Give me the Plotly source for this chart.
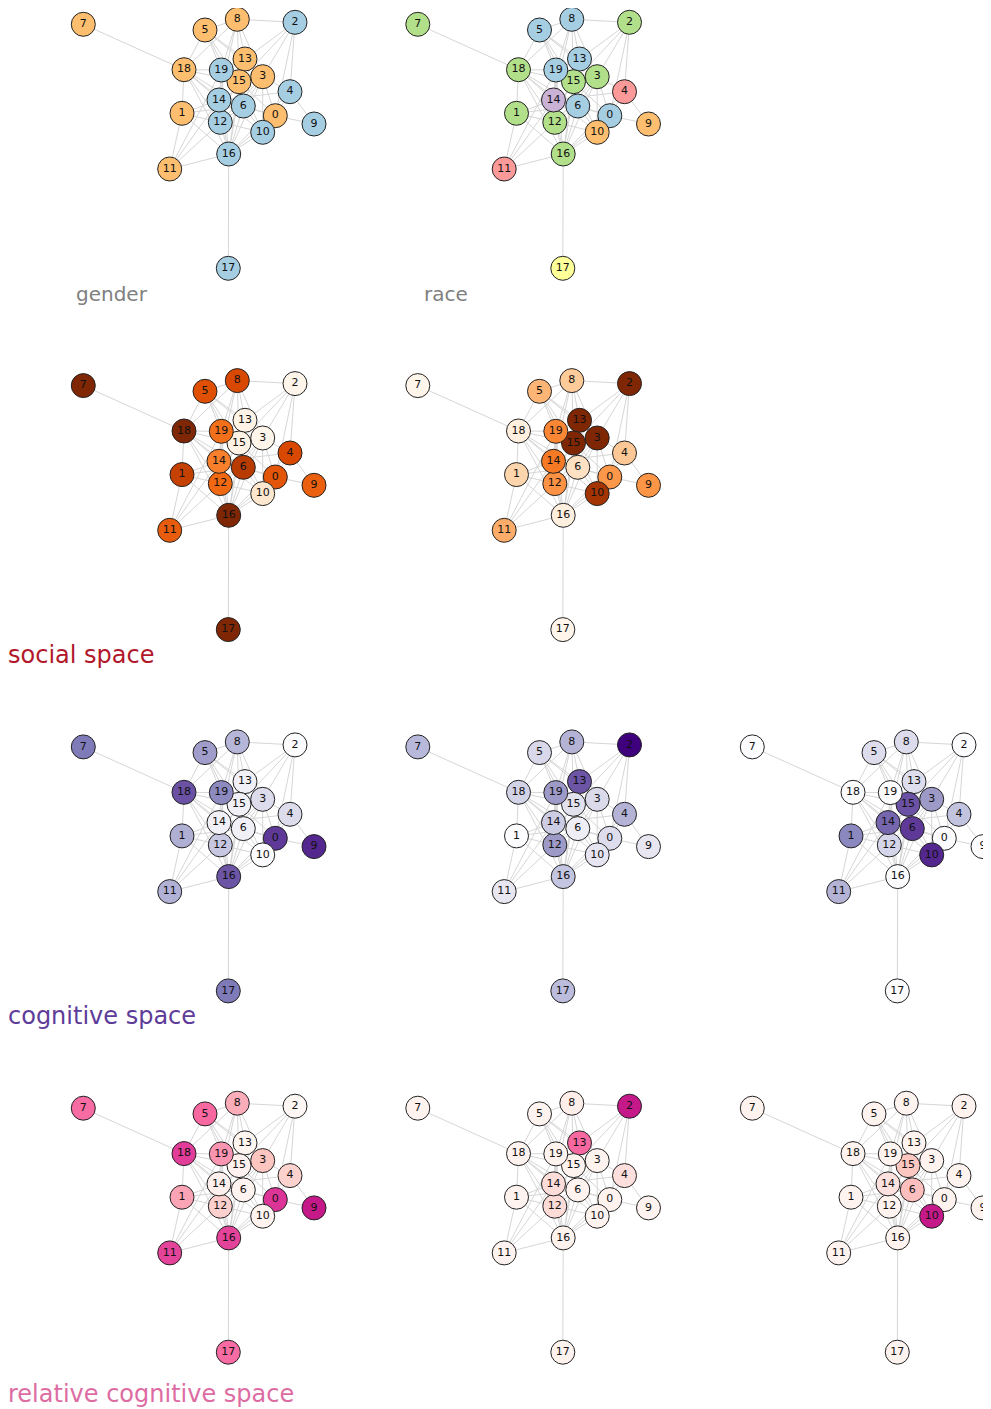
import plotly.graph_objects as go

# ---------------- data ----------------
node_ids = list(range(20))

# spring-layout positions of the 20 nodes (same layout in every panel)
node_x = [275.3, 182.0, 295.0, 262.7, 290.0, 205.0, 243.3, 83.3, 237.3, 314.0,
          262.7, 169.7, 220.3, 245.0, 219.0, 239.0, 228.7, 228.3, 184.0, 221.3]
node_y = [115.7, 113.3, 22.3, 76.7, 91.7, 30.0, 106.0, 24.3, 19.3, 124.0,
          132.3, 169.0, 122.3, 59.0, 100.0, 81.7, 154.0, 268.3, 69.7, 70.0]

edges = [
    (7, 18),
    (5, 8), (5, 18), (5, 19), (5, 15), (5, 13), (5, 3), (5, 6),
    (8, 2), (8, 18), (8, 19), (8, 13), (8, 15), (8, 14), (8, 3),
    (2, 13), (2, 3), (2, 4), (2, 15), (2, 0),
    (13, 19), (13, 15), (13, 3), (13, 12), (13, 16),
    (18, 19), (18, 1), (18, 14), (18, 12), (18, 16), (18, 6), (18, 10), (18, 15),
    (19, 15), (19, 14), (19, 12), (19, 16), (19, 3), (19, 11),
    (1, 11), (1, 14), (1, 6), (1, 16), (1, 12),
    (11, 16), (11, 12), (11, 14),
    (16, 17), (16, 12), (16, 14), (16, 6), (16, 10), (16, 0), (16, 3), (16, 15),
    (0, 9), (0, 10), (0, 4), (0, 3), (0, 6), (0, 15), (0, 14),
    (4, 9), (4, 3), (4, 14), (4, 16),
    (10, 6), (10, 3), (10, 15), (10, 12),
    (12, 6), (12, 3),
    (14, 6), (14, 3), (6, 3), (6, 15),
]

gender = ["f", "f", "m", "f", "m", "f", "m", "f", "f", "m",
          "m", "f", "m", "f", "m", "f", "m", "m", "f", "m"]
race = ["blue", "green", "green", "green", "red", "blue", "blue", "green", "blue", "orange",
        "orange", "red", "green", "blue", "purple", "green", "green", "yellow", "green", "blue"]
gender_colors = {"f": "#fdbf6f", "m": "#a6cee3"}
race_colors = {"blue": "#a6cee3", "green": "#b2df8a", "red": "#fb9a99",
               "orange": "#fdbf6f", "purple": "#cab2d6", "yellow": "#ffff99"}

social_1 = [0.70, 0.80, 0.00, 0.00, 0.75, 0.72, 0.83, 1.00, 0.75, 0.66,
            0.12, 0.67, 0.63, 0.02, 0.55, 0.02, 1.00, 1.00, 1.00, 0.60]
social_2 = [0.46, 0.22, 1.00, 1.00, 0.28, 0.35, 0.16, 0.00, 0.27, 0.47,
            0.88, 0.38, 0.48, 1.00, 0.57, 1.00, 0.05, 0.00, 0.05, 0.52]

cognitive_1 = [0.82, 0.43, 0.00, 0.24, 0.24, 0.49, 0.10, 0.63, 0.40, 0.875,
               0.00, 0.42, 0.33, 0.10, 0.10, 0.10, 0.74, 0.63, 0.75, 0.57]
cognitive_2 = [0.23, 0.00, 1.00, 0.25, 0.41, 0.26, 0.12, 0.39, 0.41, 0.17,
               0.18, 0.17, 0.50, 0.74, 0.31, 0.20, 0.34, 0.375, 0.28, 0.50]
cognitive_3 = [0.00, 0.58, 0.00, 0.50, 0.35, 0.23, 0.82, 0.00, 0.24, 0.00,
               0.875, 0.41, 0.27, 0.23, 0.69, 0.75, 0.00, 0.00, 0.00, 0.00]

relative_1 = [0.625, 0.36, 0.00, 0.25, 0.19, 0.50, 0.02, 0.49, 0.33, 0.69,
              0.02, 0.59, 0.20, 0.01, 0.04, 0.03, 0.59, 0.49, 0.60, 0.40]
relative_2 = [0.02, 0.02, 0.69, 0.02, 0.125, 0.02, 0.02, 0.02, 0.05, 0.02,
              0.02, 0.02, 0.15, 0.50, 0.14, 0.02, 0.02, 0.02, 0.02, 0.02]
relative_3 = [0.02, 0.02, 0.02, 0.02, 0.02, 0.02, 0.27, 0.02, 0.02, 0.02,
              0.69, 0.02, 0.02, 0.02, 0.12, 0.245, 0.02, 0.02, 0.02, 0.02]

# (row, col, kind, values)
panels = [
    (0, 0, "cat", [gender_colors[g] for g in gender]),
    (0, 1, "cat", [race_colors[r] for r in race]),
    (1, 0, "Oranges", social_1),
    (1, 1, "Oranges", social_2),
    (2, 0, "Purples", cognitive_1),
    (2, 1, "Purples", cognitive_2),
    (2, 2, "Purples", cognitive_3),
    (3, 0, "RdPu", relative_1),
    (3, 1, "RdPu", relative_2),
    (3, 2, "RdPu", relative_3),
]

labels = [
    ("gender", 76, 294, 20, "#808080"),
    ("race", 424, 294, 20, "#808080"),
    ("social space", 8, 655, 24, "#b2182b"),
    ("cognitive space", 8, 1016, 24, "#5e3c99"),
    ("relative cognitive space", 8, 1394, 24, "#dd6ca3"),
]

# ---------------- figure ----------------
WIN_W, WIN_H = 991, 1409
OFF = 8                       # page body margin of the html page
W, H = WIN_W - OFF, WIN_H - OFF
PW, PH = 334.5, 361.3
FONT = "DejaVu Sans"

fig = go.Figure()
ex, ey = [], []
for a, b in edges:
    ex += [node_x[a], node_x[b], None]
    ey += [node_y[a], node_y[b], None]

layout_axes = {}
for k, (r, c, kind, vals) in enumerate(panels):
    n = k + 1
    bx, by = c * PW - OFF, r * PH - OFF
    x0, x1 = max(bx, 0), min(bx + PW, W)
    y0, y1 = max(by, 0), min(by + PH, H)
    xname = "xaxis" if n == 1 else f"xaxis{n}"
    yname = "yaxis" if n == 1 else f"yaxis{n}"
    layout_axes[xname] = dict(domain=[x0 / W, x1 / W], range=[x0 - bx, x1 - bx],
                              visible=False, fixedrange=True)
    layout_axes[yname] = dict(domain=[1 - y1 / H, 1 - y0 / H], range=[y1 - by, y0 - by],
                              visible=False, fixedrange=True)
    xr = "x" if n == 1 else f"x{n}"
    yr = "y" if n == 1 else f"y{n}"
    fig.add_trace(go.Scatter(x=ex, y=ey, mode="lines", xaxis=xr, yaxis=yr,
                             line=dict(color="#d6d6d6", width=1),
                             hoverinfo="skip", showlegend=False))
    if kind == "cat":
        marker = dict(color=vals, size=24, line=dict(color="#222222", width=1))
    else:
        marker = dict(color=vals, colorscale=kind, cmin=0, cmax=1, size=24,
                      line=dict(color="#222222", width=1))
    fig.add_trace(go.Scatter(x=node_x, y=node_y, mode="markers+text",
                             xaxis=xr, yaxis=yr, marker=marker,
                             text=[str(i) for i in node_ids],
                             textposition="middle center",
                             textfont=dict(family=FONT, size=11, color="#111111"),
                             hoverinfo="text", showlegend=False))

annotations = []
for txt, px, py, size, col in labels:
    annotations.append(dict(text=txt, xref="paper", yref="paper",
                            x=(px - OFF - 2) / W, y=1 - (py - OFF) / H,
                            xanchor="left", yanchor="middle",
                            showarrow=False, font=dict(family=FONT, size=size, color=col)))

fig.update_layout(width=W, height=H, margin=dict(l=0, r=0, t=0, b=0),
                  paper_bgcolor="white", plot_bgcolor="white",
                  showlegend=False, annotations=annotations, **layout_axes)

fig.write_html("out.html")
